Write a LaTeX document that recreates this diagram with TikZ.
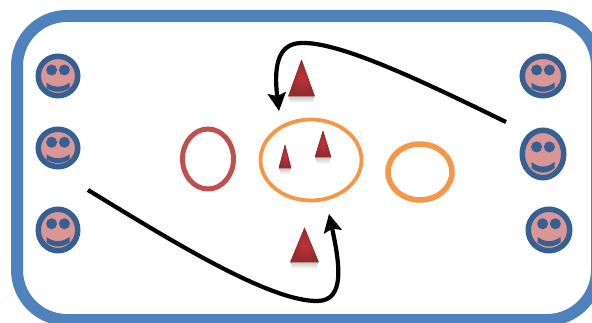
\documentclass[tikz,border=0pt]{standalone}
\usetikzlibrary{arrows.meta,shapes.geometric}
\definecolor{frameblue}{HTML}{4F81BD}
\definecolor{facepink}{HTML}{D99694}
\definecolor{facedark}{HTML}{376092}
\definecolor{ringred}{HTML}{C0504D}
\definecolor{ringorange}{HTML}{F79646}
\definecolor{coneedge}{HTML}{8E2C30}
\definecolor{conemid}{HTML}{C23038}
\tikzset{
  x=1pt,y=-1pt,
  frame/.style={draw=frameblue,line width=12pt,rounded corners=50pt},
  ring/.style={ellipse,draw=#1,line width=4.5pt,fill=none,inner sep=0pt},
  flow/.style={draw=black,line width=4.2pt,-{Stealth[length=18pt,width=18pt,inset=3pt]}},
  pics/smiley/.style args={#1/#2}{code={
    \draw[draw=facedark,line width=5.5pt,fill=facepink] (0,0) ellipse[x radius=#1-2.75,y radius=#2-2.75];
    \fill[facedark] (-6.4,-6*#2/22.5) circle[radius=5.5];
    \fill[facedark] (6.4,-6*#2/22.5) circle[radius=5.5];
    \fill[facedark] (-11.5,6.7*#2/22.5) .. controls (-4,12*#2/22.5) and (4,12*#2/22.5) .. (11.5,6.7*#2/22.5)
       -- (11.5,12*#2/22.5) .. controls (4,17*#2/22.5) and (-4,17*#2/22.5) .. (-11.5,12*#2/22.5) -- cycle;
  }},
  pics/cone/.style args={#1/#2}{code={
    \shade[top color=black!22,bottom color=white]
       (-0.5*#1,0) -- (0.5*#1,0) -- (0.5*#1-2,7) -- (-0.5*#1+2,7) -- cycle;
    \shade[inner color=conemid,outer color=coneedge,draw=coneedge,line width=0.6pt,line join=round]
       (0,-#2) -- (0.5*#1,0) -- (-0.5*#1,0) -- cycle;
  }},
}
\begin{document}
\begin{tikzpicture}
\useasboundingbox (0,0) rectangle (592,323);
\draw[frame] (17,16) rectangle (597,320);

\pic at (58,76) {smiley={22.5/22.5}};
\pic at (58,148) {smiley={22.5/21.5}};
\pic at (58,230) {smiley={22.5/23.5}};
\pic at (543,76) {smiley={23.5/22.5}};
\pic at (543,154) {smiley={23.5/26.5}};
\pic at (549,230) {smiley={23.5/23.5}};

\node[ring=ringred,minimum width=51pt,minimum height=60pt,line width=5pt] (left) at (208,159) {};
\node[ring=ringorange,minimum width=101pt,minimum height=81pt,line width=3.8pt] (centre) at (311,160) {};
\node[ring=ringorange,minimum width=64pt,minimum height=56pt,line width=5.5pt] (right) at (420,172) {};

\pic at (301.5,96) {cone={26/36}};
\pic at (285,168) {cone={12/23}};
\pic at (323,157) {cone={16/26}};
\pic at (304.5,262) {cone={28/34}};

\coordinate (startA) at (506,122);
\coordinate (tipA) at (279,111);
\coordinate (startB) at (88,190);
\coordinate (tipB) at (329,214);

\draw[flow] (startA) .. controls (420,80) and (340,42) .. (302,43)
   .. controls (280,43) and (273,62) .. (tipA);
\draw[flow] (startB) .. controls (170,240) and (270,302) .. (318,301)
   .. controls (345,300) and (340,265) .. (tipB);
\end{tikzpicture}
\end{document}
